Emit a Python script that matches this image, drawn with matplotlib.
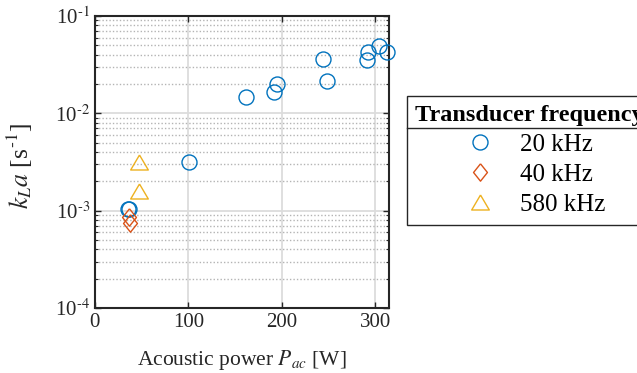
import matplotlib.pyplot as plt
from matplotlib.lines import Line2D
from matplotlib.ticker import LogLocator, NullFormatter, FuncFormatter
import numpy as np

plt.rcParams['font.family'] = 'Liberation Serif'
plt.rcParams['mathtext.fontset'] = 'stix'

# kLa vs acoustic power for the three transducers
power_20k = [35.0, 36.5, 100.4, 161.8, 191.5, 195.0, 244.4, 248.7, 291.1, 292.2, 304.4, 313.0]
kla_20k = [0.00104, 0.00105, 0.00316, 0.0147, 0.0166, 0.0201, 0.0361, 0.0216, 0.0350, 0.0430, 0.0489, 0.0423]
power_40k = [36.4, 37.5]
kla_40k = [0.000867, 0.000746]
power_580k = [47.5, 47.5]
kla_580k = [0.0032, 0.00158]

blue = '#0072BD'
red = '#D95319'
yellow = '#EDB120'
ink = '#262626'

diamond = [(0, 1), (0.8, 0), (0, -1), (-0.8, 0), (0, 1)]
triangle = [(0, 0.85), (1, -0.85), (-1, -0.85), (0, 0.85)]

fig = plt.figure(figsize=(6.37, 3.73), dpi=100)
ax = fig.add_axes([0.149, 0.174, 0.462, 0.783])

ax.plot(power_20k, kla_20k, linestyle='none', marker='o', ms=10.8, mfc='none',
        mec=blue, mew=1.0, clip_on=False, label='20 kHz', zorder=3)
ax.plot(power_40k, kla_40k, linestyle='none', marker=diamond, ms=12.5, mfc='none',
        mec=red, mew=1.0, clip_on=False, label='40 kHz', zorder=3)
ax.plot(power_580k, kla_580k, linestyle='none', marker=triangle, ms=12.7, mfc='none',
        mec=yellow, mew=1.0, clip_on=False, label='580 kHz', zorder=3)

ax.set_yscale('log')
ax.set_xlim(0, 315)
ax.set_ylim(1e-4, 1e-1)
ax.set_xticks([0, 100, 200, 300])
ax.yaxis.set_major_locator(LogLocator(base=10, numticks=10))
ax.yaxis.set_minor_locator(LogLocator(base=10, subs=range(2, 10), numticks=10))
ax.yaxis.set_minor_formatter(NullFormatter())
ax.yaxis.set_major_formatter(FuncFormatter(
    lambda v, pos: '10$^{\\text{-}%d}$' % round(-np.log10(v))))

ax.grid(True, which='major', color='#dcdcdc', linewidth=1.3)
ax.grid(True, which='minor', axis='y', color='#b4b4b4', linewidth=1.0, linestyle=(0, (1, 1.5)))
ax.set_axisbelow(True)

ax.tick_params(which='both', direction='in', top=True, right=True, labelsize=15, colors=ink)
ax.tick_params(which='major', length=4, width=1.0)
ax.tick_params(which='minor', length=2.5, width=0.8)
for s in ax.spines.values():
    s.set_linewidth(1.5)
    s.set_color(ink)

ax.set_xlabel('Acoustic power $P_{ac}$ [W]', fontsize=15.5, color=ink)
ax.set_ylabel('$k_L a$ [s$^{\\text{-}1}$]', fontsize=18.5, color=ink)
ax.xaxis.set_label_coords(0.5, -0.135)
ax.yaxis.set_label_coords(-0.205, 0.485)

leg = ax.legend(loc='upper left', bbox_to_anchor=(406.7 / 637, 1 - 96 / 373),
                bbox_transform=fig.transFigure, title='Transducer frequency',
                title_fontproperties={'weight': 'bold', 'size': 17.5}, fontsize=18,
                fancybox=False, edgecolor=ink, framealpha=1, borderpad=0.35,
                handlelength=2.0, handletextpad=0.6, labelspacing=0.3, borderaxespad=0)
leg.get_frame().set_linewidth(1.0)

# rule under the legend title
fig.canvas.draw()
inv = fig.transFigure.inverted()
tb = leg.get_title().get_window_extent()
fb = leg.get_frame().get_window_extent()
x0, y0 = inv.transform((fb.x0, tb.y0 - 2))
x1, _ = inv.transform((fb.x1, tb.y0 - 2))
fig.add_artist(Line2D([x0, x1], [y0, y0], color=ink, linewidth=1.0, transform=fig.transFigure))

fig.savefig('out.png', dpi=100)
